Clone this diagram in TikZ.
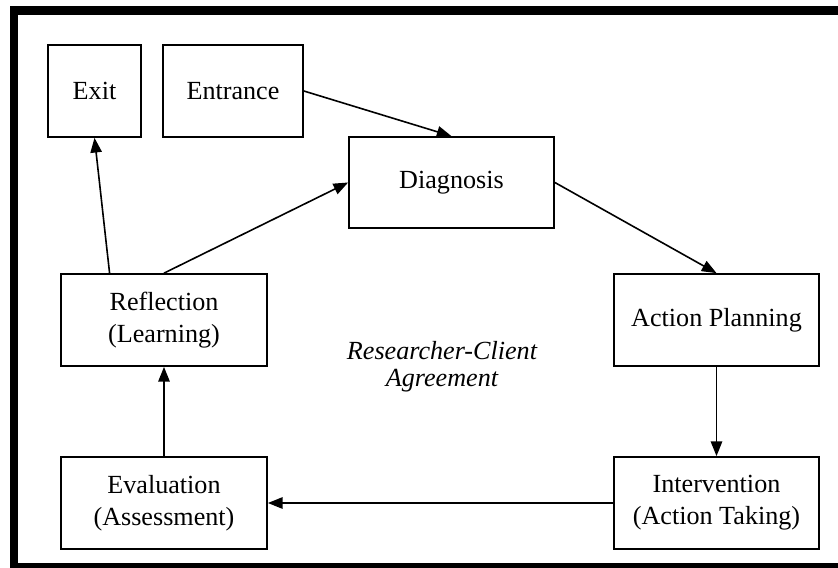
\documentclass[tikz,border=0pt]{standalone}
\usepackage{fontspec}
\setmainfont{Liberation Serif}
\usetikzlibrary{arrows.meta,calc}
\begin{document}
\begin{tikzpicture}[x=0.75pt,y=-0.75pt,
  box/.style={draw,line width=1.3pt,inner sep=0pt,align=center,
    font=\fontsize{19.6}{24}\selectfont},
  conn/.style={line width=1.2pt,-{Triangle[length=11pt,width=8.5pt]}},
  frame/.style={line width=6.5pt}]
\clip (0,0) rectangle (838,567);
\fill[white] (0,0) rectangle (838,567);
\draw[frame] (14,10.5) rectangle (850,567.5);
\node[box,minimum width=93*0.75pt,minimum height=92*0.75pt] (exit) at (94.5,91) {Exit};
\node[box,minimum width=140*0.75pt,minimum height=92*0.75pt] (ent) at (233,91) {Entrance};
\node[box,minimum width=205*0.75pt,minimum height=91*0.75pt] (diag) at (451.5,182.5) {Diagnosis};
\node[box,minimum width=205*0.75pt,minimum height=92*0.75pt] (ap) at (716.5,320) {Action Planning};
\node[box,minimum width=205*0.75pt,minimum height=92*0.75pt] (int) at (716.5,503) {Intervention\\(Action Taking)};
\node[box,minimum width=206*0.75pt,minimum height=92*0.75pt] (eval) at (164,503) {Evaluation\\(Assessment)};
\node[box,minimum width=206*0.75pt,minimum height=92*0.75pt] (refl) at (164,320) {Reflection\\(Learning)};
\node[align=center,font=\fontsize{19.6}{20}\selectfont\itshape] (agr) at (442,366.5) {Researcher-Client\\Agreement};
\coordinate (reflA) at ($(refl.north west)!0.238!(refl.north east)$);
\draw[conn] (ent.east) -- (diag.north);
\draw[conn] (refl.north) -- (diag.west);
\draw[conn] (reflA) -- (exit.south);
\draw[conn] (diag.east) -- (ap.north);
\draw[conn] (ap.south) -- (int.north);
\draw[conn] (int.west) -- (eval.east);
\draw[conn] (eval.north) -- (refl.south);
\end{tikzpicture}
\end{document}
